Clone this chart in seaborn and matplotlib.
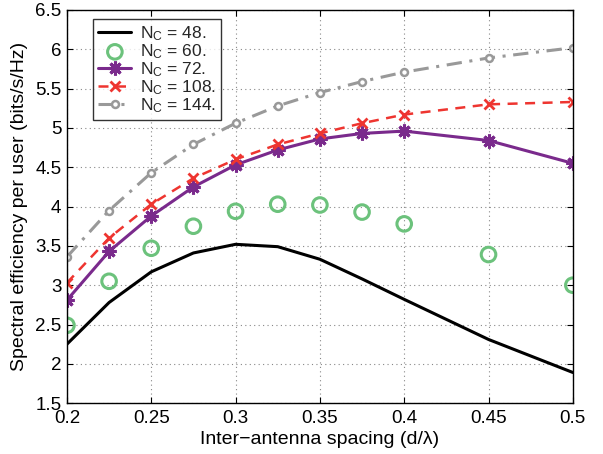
import matplotlib
matplotlib.use("Agg")
import matplotlib.pyplot as plt
import seaborn as sns

spacing = [0.2, 0.225, 0.25, 0.275, 0.3, 0.325, 0.35, 0.375, 0.4, 0.45, 0.5]
se_48 = [2.25, 2.78, 3.17, 3.41, 3.52, 3.49, 3.33, 3.08, 2.82, 2.31, 1.89]
se_60 = [2.49, 3.05, 3.47, 3.75, 3.94, 4.03, 4.02, 3.93, 3.78, 3.39, 3.00]
se_72 = [2.81, 3.43, 3.88, 4.25, 4.53, 4.72, 4.86, 4.93, 4.96, 4.84, 4.55]
se_108 = [3.03, 3.60, 4.03, 4.36, 4.60, 4.79, 4.93, 5.06, 5.17, 5.30, 5.33]
se_144 = [3.36, 3.95, 4.43, 4.79, 5.06, 5.28, 5.45, 5.59, 5.71, 5.89, 6.02]
x_ticks = [0.2, 0.25, 0.3, 0.35, 0.4, 0.45, 0.5]
y_ticks = [1.5, 2, 2.5, 3, 3.5, 4, 4.5, 5, 5.5, 6, 6.5]

sns.set_theme(style="white")
plt.rcParams["font.family"] = ["Liberation Sans", "DejaVu Sans"]
plt.rcParams["mathtext.fontset"] = "custom"
plt.rcParams["mathtext.rm"] = "Liberation Sans"
plt.rcParams["mathtext.it"] = "Liberation Sans"

fig = plt.figure(figsize=(6.03, 4.54), dpi=100)
ax = fig.add_axes([0.111, 0.112, 0.839, 0.866])


def lab(n):
    return r"N$_\mathrm{C}$ = " + f"{n}."


sns.lineplot(x=spacing, y=se_48, ax=ax, color="black", lw=2.2, label=lab(48))
sns.scatterplot(x=spacing, y=se_60, ax=ax, marker="o", s=110, facecolors="none",
                edgecolor="#6cc27c", linewidth=2.2, label=lab(60))
sns.lineplot(x=spacing, y=se_72, ax=ax, color="#7a2a8c", lw=2.2, marker=(8, 2, 0),
             markersize=10, markeredgewidth=2.2, markeredgecolor="#7a2a8c", label=lab(72))
sns.lineplot(x=spacing, y=se_108, ax=ax, color="#ee3530", lw=1.8, linestyle=(0, (4, 3)),
             marker="x", markersize=7, markeredgewidth=2, markeredgecolor="#ee3530",
             label=lab(108))
sns.lineplot(x=spacing, y=se_144, ax=ax, color="#999999", lw=2.2, linestyle=(0, (5, 2.5, 1, 2.5)),
             marker="o", markersize=5, markerfacecolor="white", markeredgewidth=1.8,
             markeredgecolor="#999999", label=lab(144))

ax.set_xlim(0.2, 0.5)
ax.set_ylim(1.5, 6.5)
ax.set_xticks(x_ticks)
ax.set_xticklabels([f"{t:g}" for t in x_ticks])
ax.set_yticks(y_ticks)
ax.set_yticklabels([f"{t:g}" for t in y_ticks])
ax.grid(True, linestyle=(0, (1, 3)), color="#888888", lw=0.8)
for s in ax.spines.values():
    s.set_visible(True)
    s.set_color("black")
    s.set_linewidth(1.0)
ax.tick_params(direction="in", length=4, width=0.8, colors="black", labelsize=13.5,
               top=True, right=True, bottom=True, left=True)
ax.tick_params(axis="x", pad=5)
ax.tick_params(axis="y", pad=4)
ax.set_xlabel("Inter\u2212antenna spacing (d/\u03bb)", fontsize=14, color="black", labelpad=3)
ax.set_ylabel("Spectral efficiency per user (bits/s/Hz)", fontsize=14, color="black", labelpad=5)

leg = ax.legend(loc="upper left", bbox_to_anchor=(0.045, 0.985), fontsize=12.5, frameon=True,
                fancybox=False, edgecolor="black", handlelength=1.9, borderpad=0.3,
                labelspacing=-0.05, handletextpad=0.5, borderaxespad=0.2)
leg.get_frame().set_linewidth(1.0)

fig.savefig("out.png", dpi=100)
